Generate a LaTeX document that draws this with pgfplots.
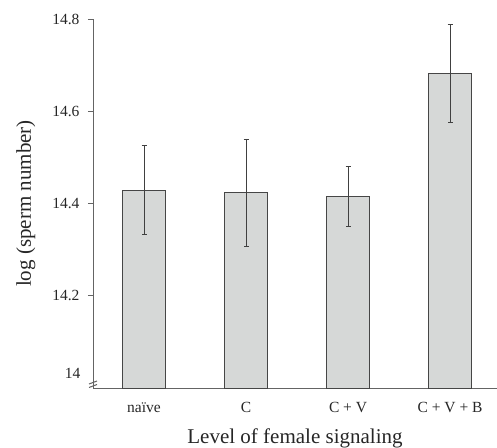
\documentclass[border=0pt]{standalone}
\usepackage{fontspec}
\setmainfont{Liberation Serif}
\usepackage{pgfplots}
\pgfplotsset{compat=1.18}
\definecolor{barfill}{RGB}{214,216,215}
\definecolor{baredge}{RGB}{70,70,70}
\definecolor{axgray}{RGB}{100,100,100}

\begin{document}
\begin{tikzpicture}
\begin{axis}[
  scale only axis, width=404pt, height=369pt,
  xmin=-0.5, xmax=3.46, ymin=14, ymax=14.8,
  axis x line*=bottom, axis y line*=left,
  axis line style={axgray, line width=0.9pt},
  tick style={axgray, line width=0.9pt},
  tick align=outside,
  /pgf/number format/assume math mode=true,
  tick label style={font=\fontsize{15.5}{18}\selectfont, text=black!85},
  xtick={0,1,2,3}, xticklabels={naïve, C, C + V, C + V + B},
  xtick style={draw=none},
  extra x ticks={-0.5,0.5,1.5,2.5}, extra x tick labels={},
  extra x tick style={tick style={axgray, line width=0.9pt}, major tick length=5pt},
  ytick={14.2,14.4,14.6,14.8},
  yticklabel style={xshift=-5pt, /pgf/number format/fixed, /pgf/number format/precision=1, /pgf/number format/fixed zerofill},
  extra y ticks={14}, extra y tick labels={14},
  extra y tick style={major tick length=0pt, tick label style={yshift=15pt, xshift=-4pt}},
  major tick length=5pt,
  xticklabel style={yshift=-6pt},
  xlabel={Level of female signaling},
  ylabel={log (sperm number)},
  label style={font=\fontsize{21}{24}\selectfont, text=black!85},
  xlabel style={yshift=1pt},
  ylabel style={yshift=5pt},
  clip=false,
]
\addplot[ybar, bar width=43pt, fill=barfill, draw=baredge, line width=0.8pt,
  error bars/.cd, y dir=both, y explicit,
  error bar style={black!75, line width=0.8pt},
  error mark options={rotate=90, mark size=2.5pt, black!75, line width=0.8pt}]
  coordinates {
  (0,14.429) +- (0,0.097)
  (1,14.424) +- (0,0.116)
  (2,14.416) +- (0,0.065)
  (3,14.682) +- (0,0.107)
  };
\coordinate (ll) at (rel axis cs:0,0);
\coordinate (ur) at (rel axis cs:1,1);
\end{axis}
% axis break marks
\draw[axgray, line width=1pt] ([shift={(-4pt,0.5pt)}]ll) -- ([shift={(4pt,3.5pt)}]ll);
\draw[axgray, line width=1pt] ([shift={(-4pt,4pt)}]ll) -- ([shift={(4pt,7pt)}]ll);
\pgfresetboundingbox
\path ([shift={(-93pt,-60pt)}]ll) rectangle ([shift={(0pt,19pt)}]ur);
\end{tikzpicture}
\end{document}
